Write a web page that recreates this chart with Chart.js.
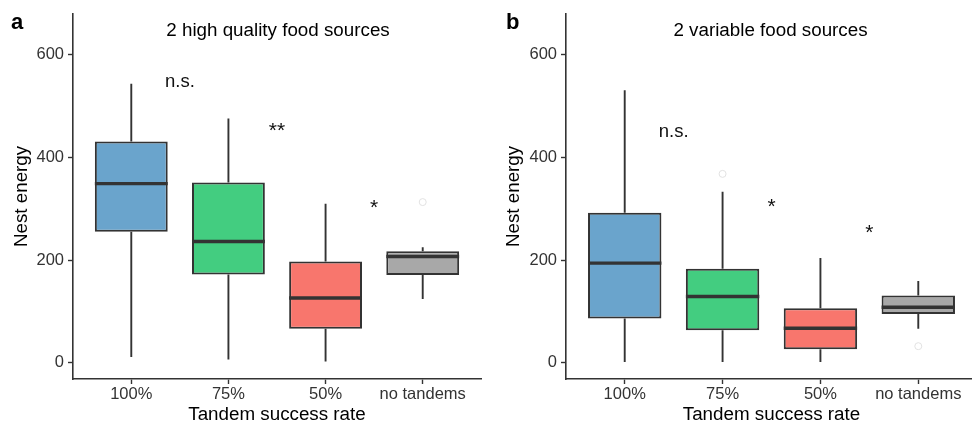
<!DOCTYPE html>
<html>
<head>
<meta charset="utf-8">
<script src="https://cdn.jsdelivr.net/npm/chart.js@4.4.1/dist/chart.umd.min.js"></script>
<style>
  html, body { margin: 0; padding: 0; background: #fff; overflow: hidden; }
  #wrap { position: relative; width: 972px; height: 426px; overflow: hidden; }
  canvas { position: absolute; top: 0; }
</style>
</head>
<body>
<div id="wrap">
  <canvas id="panelA" width="486" height="426" style="left:0"></canvas>
  <canvas id="panelB" width="496" height="426" style="left:486px"></canvas>
</div>
<script>
var categories = ['100%', '75%', '50%', 'no tandems'];
var boxColors = ['#6AA4CC', '#43CD80', '#F8766D', '#A8A8A8'];
var yTicks = [0, 200, 400, 600];

// a: 2 high quality food sources
var highLow = [11, 6, 2, 124];
var highQ1 = [255, 172, 66, 171];
var highMedian = [349, 236, 126, 207];
var highQ3 = [431, 351, 197, 217];
var highHigh = [544, 476, 310, 225];
var highOutliers = [[], [], [], [313]];
var highSignif = ['n.s.', '**', '*'];
var highSignifY = [548, 452, 302];

// b: 2 variable food sources
var varLow = [1, 1, 1, 66];
var varQ1 = [86, 63, 26, 95];
var varMedian = [194, 129, 67, 108];
var varQ3 = [292, 183, 106, 131];
var varHigh = [531, 333, 204, 159];
var varOutliers = [[], [368], [], [32]];
var varSignif = ['n.s.', '*', '*'];
var varSignifY = [450, 303, 252];

Chart.defaults.font.family = '"Liberation Sans", Arial, Helvetica, sans-serif';

function makePanel(id, p) {
    var boxes = categories.map(function (c, i) {
        return {x: i + 1, y: [p.q1[i], p.q3[i]]};
    });
    var outs = [];
    p.outliers.forEach(function (list, i) {
        list.forEach(function (v) { outs.push({x: i + 1, y: v}); });
    });

    var boxParts = {
        id: 'boxParts',
        beforeDatasetsDraw: function (chart) {
            var ctx = chart.ctx, xs = chart.scales.x, ys = chart.scales.y;
            ctx.save();
            ctx.strokeStyle = '#333333';
            ctx.lineWidth = 1.9;
            for (var i = 0; i < categories.length; i++) {
                var x = xs.getPixelForValue(i + 1);
                ctx.beginPath();
                ctx.moveTo(x, ys.getPixelForValue(p.low[i]));
                ctx.lineTo(x, ys.getPixelForValue(p.q1[i]));
                ctx.moveTo(x, ys.getPixelForValue(p.q3[i]));
                ctx.lineTo(x, ys.getPixelForValue(p.high[i]));
                ctx.stroke();
            }
            ctx.restore();
        },
        afterDatasetsDraw: function (chart) {
            var ctx = chart.ctx, xs = chart.scales.x, ys = chart.scales.y;
            var bars = chart.getDatasetMeta(0).data;
            ctx.save();
            ctx.strokeStyle = '#333333';
            ctx.lineWidth = 3.4;
            for (var i = 0; i < categories.length; i++) {
                var b = bars[i];
                var y = ys.getPixelForValue(p.median[i]);
                ctx.beginPath();
                ctx.moveTo(b.x - b.width / 2, y);
                ctx.lineTo(b.x + b.width / 2, y);
                ctx.stroke();
            }
            // significance labels between groups
            ctx.fillStyle = '#111111';
            ctx.textAlign = 'center';
            ctx.textBaseline = 'middle';
            for (var j = 0; j < p.signif.length; j++) {
                ctx.font = p.signif[j] === 'n.s.' ? '18.5px "Liberation Sans", Arial, sans-serif'
                                                 : '21px "Liberation Sans", Arial, sans-serif';
                ctx.fillText(p.signif[j], xs.getPixelForValue(j + 1.5), ys.getPixelForValue(p.signifY[j]));
            }
            // panel title and letter
            ctx.fillStyle = '#000000';
            ctx.textBaseline = 'alphabetic';
            ctx.font = '18.8px "Liberation Sans", Arial, sans-serif';
            ctx.fillText(p.title, (chart.chartArea.left + chart.chartArea.right) / 2 + p.titleShift, 36);
            ctx.textAlign = 'left';
            ctx.font = 'bold 22px "Liberation Sans", Arial, sans-serif';
            ctx.fillText(p.letter, p.letterX, 29);
            ctx.restore();
        }
    };

    return new Chart(document.getElementById(id), {
        type: 'bar',
        data: {
            datasets: [
                {
                    type: 'bar',
                    data: boxes,
                    backgroundColor: boxColors,
                    borderColor: '#333333',
                    borderWidth: 2,
                    borderSkipped: false,
                    barPercentage: 0.75,
                    categoryPercentage: 1,
                    order: 2
                },
                {
                    type: 'scatter',
                    data: outs,
                    pointRadius: 3.5,
                    pointBorderColor: '#e2e2e2',
                    pointBackgroundColor: 'rgba(0,0,0,0)',
                    pointBorderWidth: 1,
                    order: 1
                }
            ]
        },
        options: {
            responsive: false,
            animation: false,
            layout: {padding: {top: 13, right: 1, left: 0, bottom: 0}},
            plugins: {legend: {display: false}, tooltip: {enabled: false}},
            scales: {
                x: {
                    type: 'linear',
                    offset: false,
                    min: 0.4,
                    max: 4.6,
                    afterBuildTicks: function (s) {
                        s.ticks = categories.map(function (c, i) { return {value: i + 1}; });
                    },
                    afterFit: function (s) { s.height = 47; },
                    grid: {offset: false, drawOnChartArea: false, tickLength: 5, tickColor: '#333333', tickWidth: 1.4},
                    border: {display: true, color: '#333333', width: 1.6},
                    ticks: {
                        callback: function (v, i) { return categories[i]; },
                        color: '#333333',
                        font: {size: 16.5},
                        padding: 1,
                        maxRotation: 0,
                        autoSkip: false
                    },
                    title: {display: true, text: 'Tandem success rate', color: '#000000', font: {size: 18.8}, padding: {top: 0, bottom: 0}}
                },
                y: {
                    min: -32,
                    max: 680,
                    afterBuildTicks: function (s) {
                        s.ticks = yTicks.map(function (v) { return {value: v}; });
                    },
                    afterFit: function (s) { s.width = p.yWidth; },
                    grid: {drawOnChartArea: false, tickLength: 5, tickColor: '#333333', tickWidth: 1.4},
                    border: {display: true, color: '#333333', width: 1.6},
                    ticks: {color: '#333333', font: {size: 16.5}, padding: 4},
                    title: {display: true, text: 'Nest energy', color: '#000000', font: {size: 18.8}, padding: {top: p.yTitlePad, bottom: 0}}
                }
            }
        },
        plugins: [boxParts]
    });
}

makePanel('panelA', {
    low: highLow, q1: highQ1, median: highMedian, q3: highQ3, high: highHigh,
    outliers: highOutliers, signif: highSignif, signifY: highSignifY,
    title: '2 high quality food sources', titleShift: 1, letter: 'a', letterX: 11,
    yWidth: 73, yTitlePad: 11
});

makePanel('panelB', {
    low: varLow, q1: varQ1, median: varMedian, q3: varQ3, high: varHigh,
    outliers: varOutliers, signif: varSignif, signifY: varSignifY,
    title: '2 variable food sources', titleShift: -1, letter: 'b', letterX: 20,
    yWidth: 80, yTitlePad: 16.5
});
</script>
</body>
</html>
